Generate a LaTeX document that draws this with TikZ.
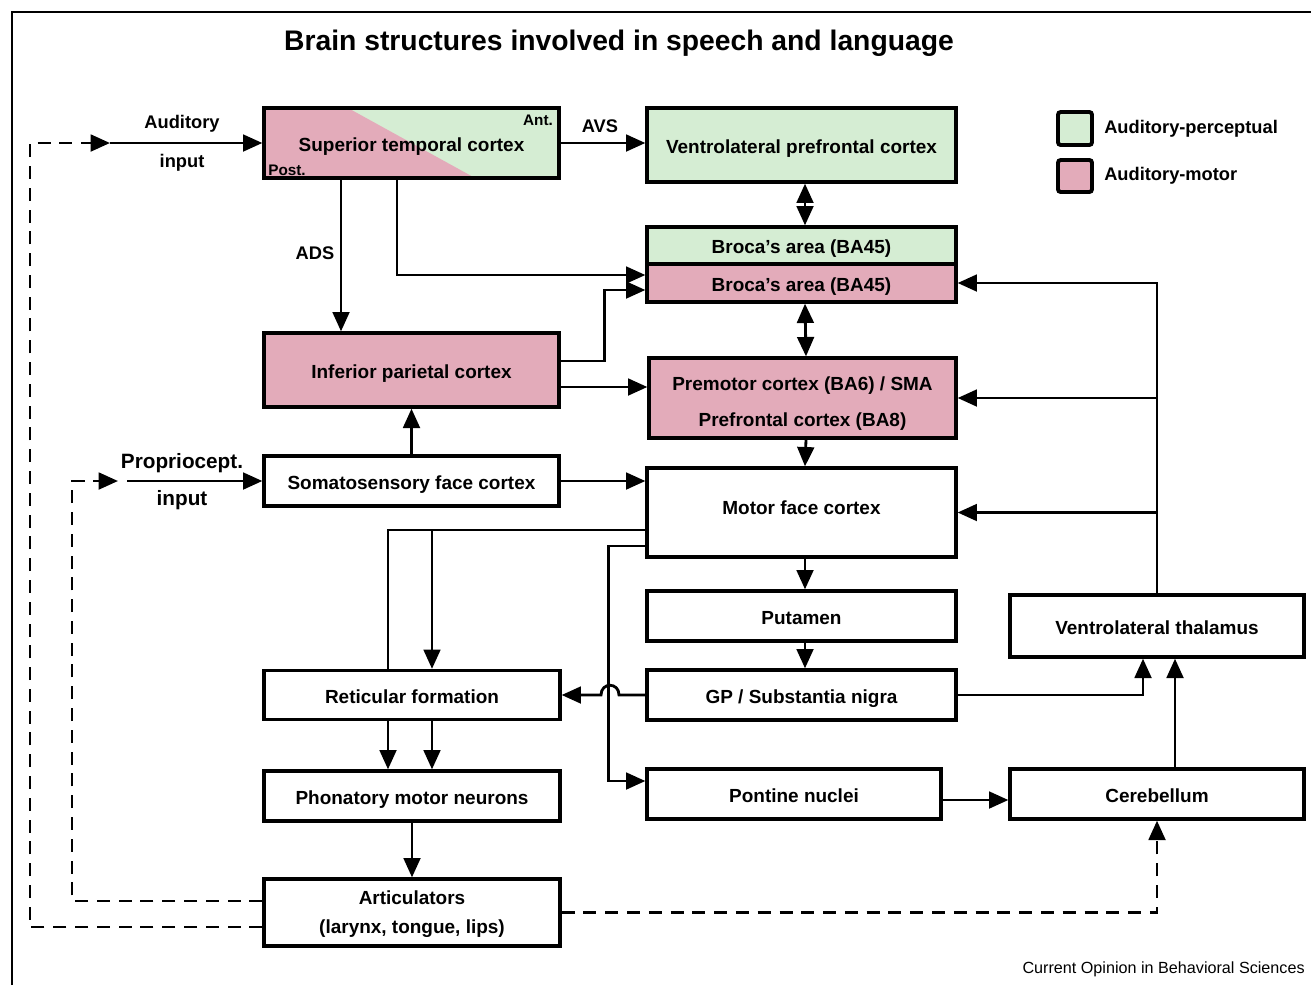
\documentclass[tikz,border=0pt]{standalone}
\usepackage{fontspec}
\setmainfont{Liberation Sans}
\usetikzlibrary{arrows.meta}
\definecolor{apgreen}{HTML}{D5EDD3}
\definecolor{ampink}{HTML}{E3ABBA}
\tikzset{
  areabox/.style={draw, line width=1.9pt, inner sep=0pt, align=center,
    font=\bfseries\fontsize{10.8}{13}\selectfont},
  area/.style={areabox, text height=9.2pt, text depth=0pt},
  lbl/.style={inner sep=0pt, font=\bfseries\fontsize{10.4}{12}\selectfont},
  arr/.style={line width=1.6pt, -{Triangle[length=11pt,width=9.5pt]}},
  darr/.style={line width=1.6pt, {Triangle[length=11pt,width=9.5pt]}-{Triangle[length=11pt,width=9.5pt]}},
  plain/.style={line width=1.6pt},
  fb/.style={arr, dash pattern=on 7.4pt off 5pt},
}

\begin{document}
\begin{tikzpicture}[x=0.02cm, y=-0.02cm]
  \useasboundingbox (0,0) rectangle (1311,985);
  \draw[line width=1.1pt] (12,985) -- (12,12) -- (1311,12);
  \node[font=\bfseries\fontsize{16.1}{19}\selectfont] (title) at (619,43) {Brain structures involved in speech and language};

  % cortex
  \fill[apgreen] (264,108) rectangle (559,178);
  \fill[ampink] (264,108) -- (348,108) -- (475,178) -- (264,178) -- cycle;
  \node[area, minimum width=5.9cm, minimum height=1.4cm] (stc) at (411.5,143) {Superior temporal cortex};
  \node[lbl, font=\bfseries\fontsize{8.7}{10}\selectfont] (ant) at (538,120) {Ant.};
  \node[lbl, font=\bfseries\fontsize{8.7}{10}\selectfont] (post) at (287,170) {Post.};
  \node[area, fill=apgreen, minimum width=6.18cm, minimum height=1.48cm] (vlpfc) at (801.5,145) {Ventrolateral prefrontal cortex};
  \node[area, fill=apgreen, minimum width=6.18cm, minimum height=0.74cm] (brocaA) at (801.5,245.5) {Broca’s area (BA45)};
  \node[area, fill=ampink, minimum width=6.18cm, minimum height=0.76cm] (brocaB) at (801.5,283) {Broca’s area (BA45)};
  \node[area, fill=ampink, minimum width=5.9cm, minimum height=1.48cm] (ipc) at (411.5,370) {Inferior parietal cortex};
  \node[areabox, fill=ampink, minimum width=6.14cm, minimum height=1.6cm] (pmc) at (802.5,398) {\rule{0pt}{14.6pt}Premotor cortex (BA6) / SMA\\[7.4pt]Prefrontal cortex (BA8)};
  \node[area, minimum width=5.9cm, minimum height=1cm] (ssc) at (411.5,481) {Somatosensory face cortex};
  \node[areabox, text depth=5pt, minimum width=6.18cm, minimum height=1.78cm] (mfc) at (801.5,512.5) {Motor face cortex};

  % subcortical
  \node[area, minimum width=6.18cm, minimum height=1cm] (put) at (801.5,616) {Putamen};
  \node[area, minimum width=6.18cm, minimum height=1cm] (gp) at (801.5,695) {GP / Substantia nigra};
  \node[area, minimum width=5.88cm, minimum height=1cm] (pon) at (794,794) {Pontine nuclei};
  \node[area, minimum width=5.92cm, minimum height=0.98cm] (ret) at (412,695) {Reticular formation};
  \node[area, minimum width=5.92cm, minimum height=1cm] (pmn) at (412,796) {Phonatory motor neurons};
  \node[areabox, minimum width=5.92cm, minimum height=1.34cm] (art) at (412,912.5) {\rule{0pt}{10pt}Articulators\\[3.4pt](larynx, tongue, lips)};
  \node[area, minimum width=5.88cm, minimum height=1.24cm] (thal) at (1157,626) {Ventrolateral thalamus};
  \node[area, minimum width=5.88cm, minimum height=1cm] (cer) at (1157,794) {Cerebellum};

  % legend
  \node[areabox, fill=apgreen, line width=2.2pt, rounded corners=1.5pt, minimum width=0.68cm, minimum height=0.66cm] (lgA) at (1075,128.5) {};
  \node[areabox, fill=ampink, line width=2.2pt, rounded corners=1.5pt, minimum width=0.68cm, minimum height=0.64cm] (lgB) at (1075,176) {};
  \node[lbl, anchor=west] (lgAt) at ([xshift=0.2cm]lgA.east) {Auditory-perceptual};
  \node[lbl, anchor=west] (lgBt) at ([xshift=0.2cm]lgB.east) {Auditory-motor};

  % inputs and feedback
  \coordinate (audin) at (110,143);
  \coordinate (propend) at (118,481);
  \coordinate (propin) at (127,481);
  \draw[arr] (audin) -- (stc.west);
  \node[lbl] (audA) at (182,124) {Auditory};
  \node[lbl] (audB) at (182,163) {input};
  \draw[arr] (propin) -- (ssc.west);
  \node[lbl, font=\bfseries\fontsize{11.8}{14}\selectfont] (propA) at (182,463) {Propriocept.};
  \node[lbl, font=\bfseries\fontsize{11.8}{14}\selectfont] (propB) at (182,500) {input};
  \draw[fb] ([yshift=-0.29cm]art.west) -| (30,143) -- (audin);
  \draw[fb] ([yshift=0.23cm]art.west) -| (72,481) -- (propend);
  \draw[fb] (art.east) -| (cer.south);

  % streams
  \draw[arr] (stc.east) -- (stc.east -| vlpfc.west);
  \node[lbl] (avs) at (600,126) {AVS};
  \draw[darr] ([xshift=0.07cm]vlpfc.south) -- ([xshift=0.07cm]brocaA.north);
  \draw[darr] ([xshift=0.07cm]brocaB.south) -- ([xshift=0.07cm]pmc.north);
  \draw[arr] ([xshift=-1.41cm]stc.south) -- ([xshift=-1.41cm]ipc.north);
  \node[lbl] (ads) at (315,253) {ADS};
  \draw[arr] ([xshift=-0.29cm]stc.south) |- ([yshift=0.16cm]brocaB.west);
  \draw[arr] ([yshift=0.18cm]ipc.east) -- ++(44,0) |- ([yshift=-0.14cm]brocaB.west);
  \coordinate (ip) at ([yshift=-0.34cm]ipc.east);
  \draw[arr] (ip) -- (ip -| pmc.west);
  \draw[arr] (ssc.north) -- (ipc.south);
  \draw[arr] (ssc.east) -- (ssc.east -| mfc.west);
  \draw[arr] ([xshift=0.07cm]pmc.south) -- ([xshift=0.07cm]mfc.north);
  \draw[arr] ([xshift=0.07cm]mfc.south) -- ([xshift=0.07cm]put.north);
  \draw[arr] ([xshift=0.07cm]put.south) -- ([xshift=0.07cm]gp.north);

  % motor output
  \coordinate (m1) at ([yshift=-0.35cm]mfc.west);
  \coordinate (m2) at ([yshift=-0.67cm]mfc.west);
  \coordinate (r1) at ([xshift=-0.48cm]ret.north);
  \coordinate (r2) at ([xshift=0.4cm]ret.north);
  \draw[plain] (m1) -| (r1);
  \draw[arr] (r2 |- m1) -- (r2);
  \draw[arr] ([xshift=-0.48cm]ret.south) -- ([xshift=-0.48cm]pmn.north);
  \draw[arr] ([xshift=0.4cm]ret.south) -- ([xshift=0.4cm]pmn.north);
  \draw[arr] (pmn.south) -- (art.north);
  \draw[arr] (m2) -- ++(-37,0) |- ([yshift=0.26cm]pon.west);
  \draw[arr] (gp.west) -- (619,695) .. controls (619,682) and (601,682) .. (601,695) -- (ret.east);
  \coordinate (pe) at ([yshift=-0.12cm]pon.east);
  \draw[arr] (pe) -- (pe -| cer.west);
  \draw[arr] (gp.east) -| ([xshift=-0.28cm]thal.south);
  \draw[arr] ([xshift=0.36cm]cer.north) -- ([xshift=0.36cm]thal.south);

  % thalamic loop
  \draw[arr] (thal.north) |- (brocaB.east);
  \draw[arr] (thal.north |- pmc.east) -- (pmc.east);
  \draw[arr] (thal.north |- mfc.east) -- (mfc.east);

  \node[anchor=east, inner sep=0pt, font=\fontsize{9.2}{11}\selectfont] (src) at (1305,969) {Current Opinion in Behavioral Sciences};
\end{tikzpicture}
\end{document}
